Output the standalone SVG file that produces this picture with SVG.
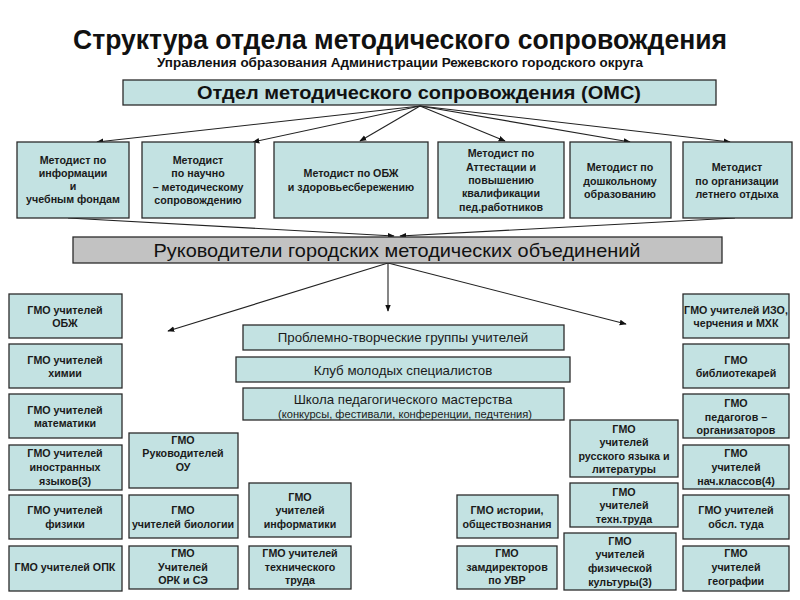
<svg xmlns="http://www.w3.org/2000/svg" width="800" height="600" viewBox="0 0 800 600">
<defs>
<marker id="ah" viewBox="0 0 10 10" refX="9" refY="5" markerWidth="7" markerHeight="7" markerUnits="userSpaceOnUse" orient="auto">
<path d="M0,1 L10,5 L0,9 z" fill="#111"/>
</marker>
<style>
.bx{fill:#c3e2e2;stroke:#2b2b2b;stroke-width:1.3}
.gr{fill:#c2c2c2;stroke:#2b2b2b;stroke-width:1.3}
.t{font-family:"Liberation Sans",Arial,sans-serif;font-size:10.7px;font-weight:bold;fill:#1a1a1a;text-anchor:middle}
.m{font-family:"Liberation Sans",Arial,sans-serif;font-size:13.3px;fill:#1a1a1a;text-anchor:middle}
.cn line{stroke:#222;stroke-width:1.1;marker-end:url(#ah)}
</style>
</defs>
<rect width="800" height="600" fill="#fff"/>
<g id="title">
<text x="400" y="49" font-family="'Liberation Sans',Arial,sans-serif" font-size="28" font-weight="bold" fill="#111" text-anchor="middle" textLength="654" lengthAdjust="spacingAndGlyphs">Структура отдела методического сопровождения</text>
<text x="400" y="67" font-family="'Liberation Sans',Arial,sans-serif" font-size="12.5" font-weight="bold" fill="#111" text-anchor="middle" textLength="486" lengthAdjust="spacingAndGlyphs">Управления образования Администрации Режевского городского округа</text>
</g>
<g class="cn" id="connectors">
<line x1="420" y1="106" x2="97" y2="142"/>
<line x1="420" y1="106" x2="253" y2="142"/>
<line x1="420" y1="106" x2="360" y2="141"/>
<line x1="420" y1="106" x2="505" y2="141"/>
<line x1="420" y1="106" x2="630" y2="142"/>
<line x1="420" y1="106" x2="730" y2="142"/>
<line x1="68" y1="218" x2="394" y2="236"/>
<line x1="735" y1="218" x2="400" y2="236"/>
<line x1="388" y1="263" x2="168" y2="331"/>
<line x1="388" y1="263" x2="388" y2="311"/>
<line x1="388" y1="263" x2="626" y2="324"/>
</g>
<g id="oms">
<rect class="bx" x="123" y="80" width="593" height="25"/>
<text x="419" y="99" font-family="'Liberation Sans',Arial,sans-serif" font-size="19" font-weight="bold" fill="#111" text-anchor="middle" textLength="444" lengthAdjust="spacingAndGlyphs">Отдел методического сопровождения (ОМС)</text>
</g>
<g id="m1"><rect class="bx" x="17" y="142" width="112" height="76"/>
<text class="t"><tspan x="73" y="164">Методист по</tspan><tspan x="73" y="177">информации</tspan><tspan x="73" y="190">и</tspan><tspan x="73" y="203">учебным фондам</tspan></text></g>
<g id="m2"><rect class="bx" x="142" y="142" width="113" height="76"/>
<text class="t"><tspan x="198" y="164">Методист</tspan><tspan x="198" y="177">по научно</tspan><tspan x="198" y="191">– методическому</tspan><tspan x="198" y="204">сопровождению</tspan></text></g>
<g id="m3"><rect class="bx" x="274" y="142" width="154" height="76"/>
<text class="t"><tspan x="351" y="177">Методист по ОБЖ</tspan><tspan x="351" y="191">и здоровьесбережению</tspan></text></g>
<g id="m4"><rect class="bx" x="438" y="142" width="126" height="76"/>
<text class="t"><tspan x="501" y="157">Методист по</tspan><tspan x="501" y="171">Аттестации и</tspan><tspan x="501" y="184">повышению</tspan><tspan x="501" y="197">квалификации</tspan><tspan x="501" y="211">пед.работников</tspan></text></g>
<g id="m5"><rect class="bx" x="570" y="142" width="101" height="76"/>
<text class="t"><tspan x="620" y="171">Методист по</tspan><tspan x="620" y="185">дошкольному</tspan><tspan x="620" y="198">образованию</tspan></text></g>
<g id="m6"><rect class="bx" x="683" y="142" width="109" height="76"/>
<text class="t"><tspan x="737" y="171">Методист</tspan><tspan x="737" y="185">по организации</tspan><tspan x="737" y="198">летнего отдыха</tspan></text></g>
<g id="rgmo"><rect class="gr" x="73" y="237" width="649" height="26"/>
<text x="397" y="257" font-family="'Liberation Sans',Arial,sans-serif" font-size="19" fill="#111" text-anchor="middle" textLength="487" lengthAdjust="spacingAndGlyphs">Руководители городских методических объединений</text></g>
<g id="ptg"><rect class="bx" x="243" y="325" width="321" height="25"/><text class="m" x="403" y="342">Проблемно-творческие группы учителей</text></g>
<g id="kms"><rect class="bx" x="236" y="357" width="334" height="25"/><text class="m" x="403" y="375">Клуб молодых специалистов</text></g>
<g id="spm"><rect class="bx" x="243" y="388" width="321" height="32"/><text class="m" x="403" y="404">Школа педагогического мастерства</text><text x="405" y="418" font-family="'Liberation Sans',Arial,sans-serif" font-size="10.5" fill="#1a1a1a" text-anchor="middle" textLength="254" lengthAdjust="spacingAndGlyphs">(конкурсы, фестивали, конференции,  педчтения)</text></g>
<g id="g1"><rect class="bx" x="9" y="294" width="113" height="44"/><text class="t"><tspan x="65" y="314">ГМО учителей</tspan><tspan x="65" y="327">ОБЖ</tspan></text></g>
<g id="g2"><rect class="bx" x="9" y="344" width="113" height="44"/><text class="t"><tspan x="65" y="364">ГМО учителей</tspan><tspan x="65" y="377">химии</tspan></text></g>
<g id="g3"><rect class="bx" x="9" y="394" width="113" height="44"/><text class="t"><tspan x="65" y="414">ГМО учителей</tspan><tspan x="65" y="427">математики</tspan></text></g>
<g id="g4"><rect class="bx" x="9" y="445" width="113" height="45"/><text class="t"><tspan x="65" y="457">ГМО учителей</tspan><tspan x="65" y="471">иностранных</tspan><tspan x="65" y="485">языков(3)</tspan></text></g>
<g id="g5"><rect class="bx" x="9" y="495" width="113" height="44"/><text class="t"><tspan x="65" y="514">ГМО учителей</tspan><tspan x="65" y="528">физики</tspan></text></g>
<g id="g6"><rect class="bx" x="9" y="546" width="113" height="45"/><text class="t"><tspan x="65" y="571">ГМО учителей ОПК</tspan></text></g>
<g id="g7"><rect class="bx" x="129" y="433" width="109" height="55"/><text class="t"><tspan x="183" y="444">ГМО</tspan><tspan x="183" y="457">Руководителей</tspan><tspan x="183" y="471">ОУ</tspan></text></g>
<g id="g8"><rect class="bx" x="129" y="495" width="109" height="43"/><text class="t"><tspan x="183" y="514">ГМО</tspan><tspan x="183" y="528">учителей биологии</tspan></text></g>
<g id="g9"><rect class="bx" x="129" y="546" width="109" height="43"/><text class="t"><tspan x="183" y="557">ГМО</tspan><tspan x="183" y="571">Учителей</tspan><tspan x="183" y="584">ОРК и СЭ</tspan></text></g>
<g id="g10"><rect class="bx" x="249" y="483" width="102" height="54"/><text class="t"><tspan x="300" y="501">ГМО</tspan><tspan x="300" y="514">учителей</tspan><tspan x="300" y="528">информатики</tspan></text></g>
<g id="g11"><rect class="bx" x="249" y="546" width="102" height="43"/><text class="t"><tspan x="300" y="557">ГМО учителей</tspan><tspan x="300" y="571">технического</tspan><tspan x="300" y="584">труда</tspan></text></g>
<g id="g12"><rect class="bx" x="457" y="495" width="101" height="43"/><text class="t"><tspan x="507" y="514">ГМО истории,</tspan><tspan x="507" y="528">обществознания</tspan></text></g>
<g id="g13"><rect class="bx" x="457" y="546" width="100" height="43"/><text class="t"><tspan x="507" y="557">ГМО</tspan><tspan x="507" y="571">замдиректоров</tspan><tspan x="507" y="584">по УВР</tspan></text></g>
<g id="g14"><rect class="bx" x="570" y="420" width="108" height="57"/><text class="t"><tspan x="624" y="433">ГМО</tspan><tspan x="624" y="446">учителей</tspan><tspan x="624" y="460">русского языка и</tspan><tspan x="624" y="473">литературы</tspan></text></g>
<g id="g15"><rect class="bx" x="570" y="483" width="108" height="44"/><text class="t"><tspan x="624" y="496">ГМО</tspan><tspan x="624" y="509">учителей</tspan><tspan x="624" y="523">техн.труда</tspan></text></g>
<g id="g16"><rect class="bx" x="564" y="533" width="112" height="57"/><text class="t"><tspan x="620" y="545">ГМО</tspan><tspan x="620" y="558">учителей</tspan><tspan x="620" y="572">физической</tspan><tspan x="620" y="586">культуры(3)</tspan></text></g>
<g id="g17"><rect class="bx" x="683" y="294" width="106" height="44"/><text class="t"><tspan x="736" y="314">ГМО учителей ИЗО,</tspan><tspan x="736" y="327">черчения и  МХК</tspan></text></g>
<g id="g18"><rect class="bx" x="683" y="344" width="106" height="44"/><text class="t"><tspan x="736" y="364">ГМО</tspan><tspan x="736" y="377">библиотекарей</tspan></text></g>
<g id="g19"><rect class="bx" x="683" y="394" width="106" height="44"/><text class="t"><tspan x="736" y="407">ГМО</tspan><tspan x="736" y="421">педагогов –</tspan><tspan x="736" y="434">организаторов</tspan></text></g>
<g id="g20"><rect class="bx" x="683" y="445" width="106" height="44"/><text class="t"><tspan x="736" y="457">ГМО</tspan><tspan x="736" y="471">учителей</tspan><tspan x="736" y="485">нач.классов(4)</tspan></text></g>
<g id="g21"><rect class="bx" x="683" y="495" width="106" height="44"/><text class="t"><tspan x="736" y="514">ГМО учителей</tspan><tspan x="736" y="528">обсл. туда</tspan></text></g>
<g id="g22"><rect class="bx" x="683" y="546" width="106" height="45"/><text class="t"><tspan x="736" y="557">ГМО</tspan><tspan x="736" y="571">учителей</tspan><tspan x="736" y="585">географии</tspan></text></g>
</svg>
